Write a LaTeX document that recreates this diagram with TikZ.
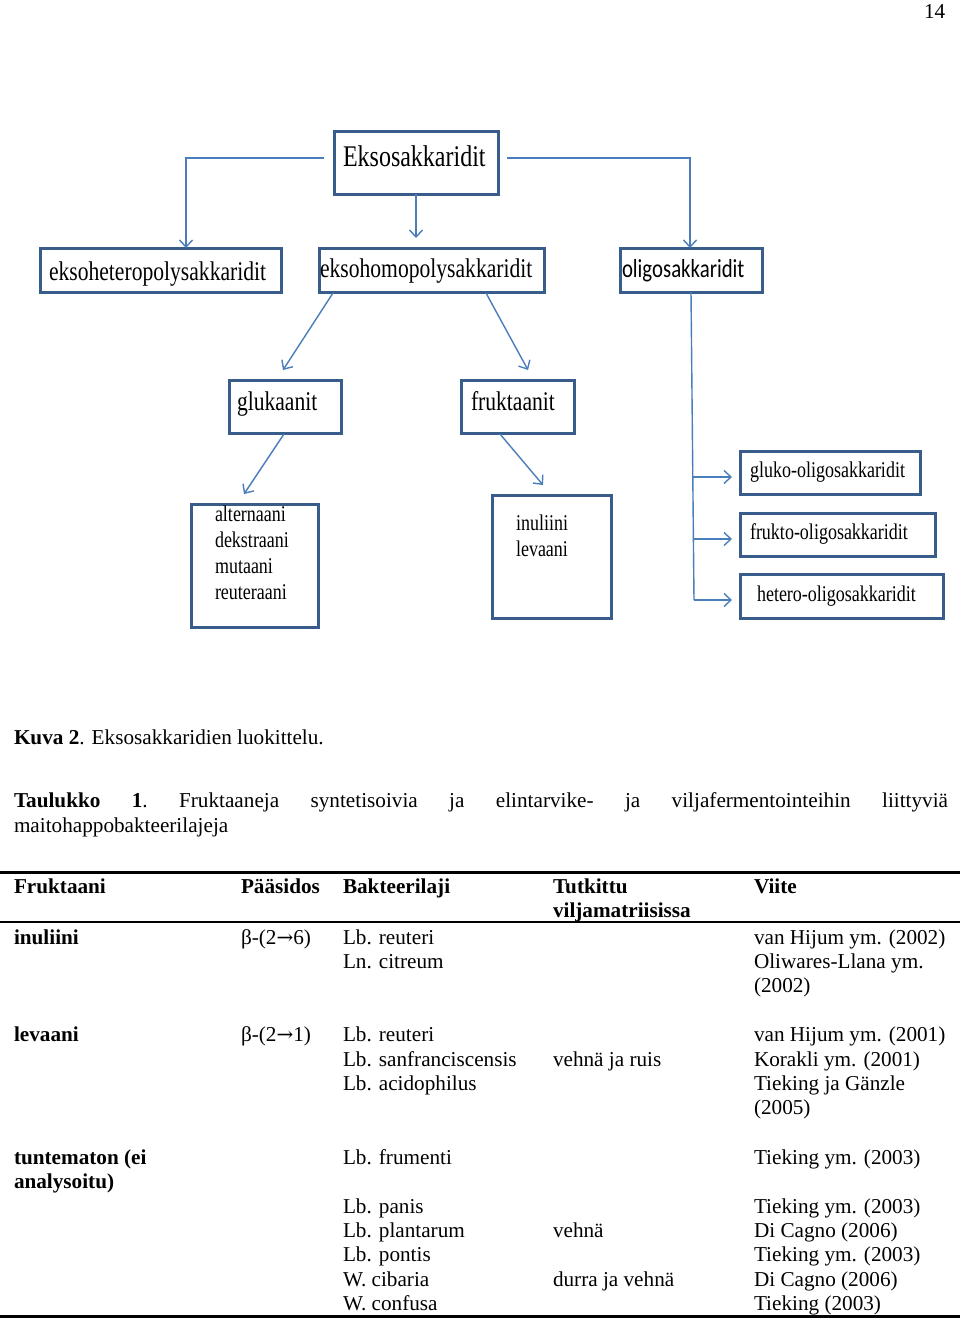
\documentclass[tikz,border=0pt]{standalone}
\usepackage{fontspec}
\setmainfont{Liberation Serif}
\newfontfamily\cond[FakeStretch=0.8]{Liberation Serif}
\newfontfamily\condsans[FakeStretch=0.8]{Carlito}
\newfontfamily\arrfont{DejaVu Serif}
\usetikzlibrary{arrows.meta,calc}
\definecolor{boxc}{RGB}{56,93,138}
\definecolor{arrc}{RGB}{74,126,187}
\newcommand\rarr{{\arrfont\fontsize{20}{24}\selectfont →}}
\tikzset{
  box/.style={draw=boxc, line width=3pt, inner sep=0pt, outer sep=0pt},
  conn/.style={draw=arrc, line width=1.4pt},
  arr/.style={-{Straight Barb[length=7pt,width=13pt,line width=1.4pt]}},
  lab/.style={anchor=base west, inner sep=0pt, outer sep=0pt},
  big/.style={lab, font=\fontsize{27}{31}\cond},
  huge/.style={lab, font=\fontsize{30}{34}\cond},
  small/.style={lab, font=\fontsize{22.5}{26}\cond},
  tt/.style={lab, font=\fontsize{21.2}{24.5}\selectfont},
  tb/.style={lab, font=\fontsize{21.2}{24.5}\selectfont\bfseries},
  rulec/.style={draw=black, line width=3pt}
}
\begin{document}
\begin{tikzpicture}[x=1pt,y=-1pt]
\useasboundingbox (0,0) rectangle (960,1319);
\fill[white] (0,0) rectangle (960,1319);

% page number
\node[tt] (pg) at (924,19) {14};

% boxes
\node[box, minimum width=164pt, minimum height=62pt] (E) at (416,163) {};
\node[box, minimum width=241pt, minimum height=44pt] (het) at (160.5,270) {};
\node[box, minimum width=225pt, minimum height=44pt] (hom) at (431.5,270) {};
\node[box, minimum width=142pt, minimum height=44pt] (oli) at (691,270) {};
\node[box, minimum width=112pt, minimum height=53pt] (glu) at (285,406.5) {};
\node[box, minimum width=113pt, minimum height=53pt] (fru) at (517.5,406.5) {};
\node[box, minimum width=127pt, minimum height=123pt] (alt) at (254.5,565.5) {};
\node[box, minimum width=119pt, minimum height=123pt] (inu) at (551.5,556.5) {};
\node[box, minimum width=180pt, minimum height=43pt] (gok) at (830,472.5) {};
\node[box, minimum width=195pt, minimum height=43pt] (fok) at (837.5,534.5) {};
\node[box, minimum width=203pt, minimum height=44pt] (hok) at (841.5,596) {};

% box texts
\node[huge] (tE) at (343,166) {Eksosakkaridit};
\node[big] (thet) at (49,280) {eksoheteropolysakkaridit};
\node[big] (thom) at (320,277) {eksohomopolysakkaridit};
\node[lab, font=\fontsize{26}{30}\condsans] (toli) at (622,277) {oligosakkaridit};
\node[big] (tglu) at (237,410) {glukaanit};
\node[big] (tfru) at (471,410) {fruktaanit};
\node[small] (ta1) at (215,521) {alternaani};
\node[small] (ta2) at (215,547) {dekstraani};
\node[small] (ta3) at (215,573) {mutaani};
\node[small] (ta4) at (215,599) {reuteraani};
\node[small] (ti1) at (516,530) {inuliini};
\node[small] (ti2) at (516,556) {levaani};
\node[small] (tg) at (750,477) {gluko-oligosakkaridit};
\node[small] (tf) at (750,539) {frukto-oligosakkaridit};
\node[small] (th) at (757,601) {hetero-oligosakkaridit};

% connectors
\draw[conn, arr, shorten <=10pt] ($(E.west)+(0,-5)$) -| ($(het.north)+(25.5,0)$);
\draw[conn, arr, shorten <=9pt] ($(E.east)+(0,-5)$) -| ($(oli.north)+(-1,0)$);
\draw[conn, arr, shorten >=10pt] (E.south) -- (E.south |- hom.north);
\draw[conn, arr] ($(hom.south)+(-98.5,1)$) -- ($(glu.north)+(-2,-10)$);
\draw[conn, arr] ($(hom.south)+(54.5,1)$) -- ($(fru.north)+(10.5,-10)$);
\draw[conn, arr] ($(glu.south)+(-1,1)$) -- ($(alt.north)+(-10.5,-10)$);
\draw[conn, arr] ($(fru.south)+(-17.5,1)$) -- ($(inu.north)+(-8.5,-10)$);
\coordinate (vend) at (694,600);
\draw[conn] (oli.south) -- (vend);
\coordinate (b1) at (692.6,477);
\coordinate (b2) at (693.3,539);
\coordinate (b3) at (694,600);
\draw[conn, arr, shorten >=8pt] (b1) -- (b1 -| gok.west);
\draw[conn, arr, shorten >=8pt] (b2) -- (b2 -| fok.west);
\draw[conn, arr, shorten >=8pt] (b3) -- (b3 -| hok.west);

% captions
\node[tt] (cap) at (14,744) {\textbf{Kuva 2}. Eksosakkaridien luokittelu.};
\node[tt] (tl1) at (14,807) {\makebox[934pt][l]{\textbf{Taulukko}\hfill\textbf{1}.\hfill Fruktaaneja\hfill syntetisoivia\hfill ja\hfill elintarvike-\hfill ja\hfill viljafermentointeihin\hfill liittyviä}};
\node[tt] (tl2) at (14,832) {maitohappobakteerilajeja};

% table rules
\coordinate (r1a) at (0,872); \coordinate (r1b) at (960,872);
\coordinate (r2a) at (0,922); \coordinate (r2b) at (960,922);
\coordinate (r3a) at (0,1316); \coordinate (r3b) at (960,1316);
\draw[rulec] (r1a) -- (r1b);
\draw[rulec, line width=2.5pt] (r2a) -- (r2b);
\draw[rulec] (r3a) -- (r3b);

% header
\node[tb] (h1) at (14,893) {Fruktaani};
\node[tb] (h2) at (241,893) {Pääsidos};
\node[tb] (h3) at (343,893) {Bakteerilaji};
\node[tb] (h4) at (553,893) {Tutkittu};
\node[tb] (h4b) at (553,917) {viljamatriisissa};
\node[tb] (h5) at (754,893) {Viite};

% row inuliini
\node[tb] (c11) at (14,944) {inuliini};
\node[tt] (c12) at (241,944) {β-(2\rarr 6)};
\node[tt] (c13) at (343,944) {Lb. reuteri};
\node[tt] (c13b) at (343,968) {Ln. citreum};
\node[tt] (c15) at (754,944) {van Hijum ym. (2002)};
\node[tt] (c15b) at (754,968) {Oliwares-Llana ym.};
\node[tt] (c15c) at (754,992) {(2002)};

% row levaani
\node[tb] (c21) at (14,1041) {levaani};
\node[tt] (c22) at (241,1041) {β-(2\rarr 1)};
\node[tt] (c23) at (343,1041) {Lb. reuteri};
\node[tt] (c23b) at (343,1066) {Lb. sanfranciscensis};
\node[tt] (c23c) at (343,1090) {Lb. acidophilus};
\node[tt] (c24) at (553,1066) {vehnä ja ruis};
\node[tt] (c25) at (754,1041) {van Hijum ym. (2001)};
\node[tt] (c25b) at (754,1066) {Korakli ym. (2001)};
\node[tt] (c25c) at (754,1090) {Tieking ja Gänzle};
\node[tt] (c25d) at (754,1114) {(2005)};

% row tuntematon
\node[tb] (c31) at (14,1164) {tuntematon (ei};
\node[tb] (c31b) at (14,1188) {analysoitu)};
\node[tt] (c33) at (343,1164) {Lb. frumenti};
\node[tt] (c35) at (754,1164) {Tieking ym. (2003)};
\node[tt] (c33b) at (343,1213) {Lb. panis};
\node[tt] (c35b) at (754,1213) {Tieking ym. (2003)};
\node[tt] (c33c) at (343,1237) {Lb. plantarum};
\node[tt] (c34c) at (553,1237) {vehnä};
\node[tt] (c35c) at (754,1237) {Di Cagno (2006)};
\node[tt] (c33d) at (343,1261) {Lb. pontis};
\node[tt] (c35d) at (754,1261) {Tieking ym. (2003)};
\node[tt] (c33e) at (343,1286) {W. cibaria};
\node[tt] (c34e) at (553,1286) {durra ja vehnä};
\node[tt] (c35e) at (754,1286) {Di Cagno (2006)};
\node[tt] (c33f) at (343,1310) {W. confusa};
\node[tt] (c35f) at (754,1310) {Tieking (2003)};
\end{tikzpicture}
\end{document}
